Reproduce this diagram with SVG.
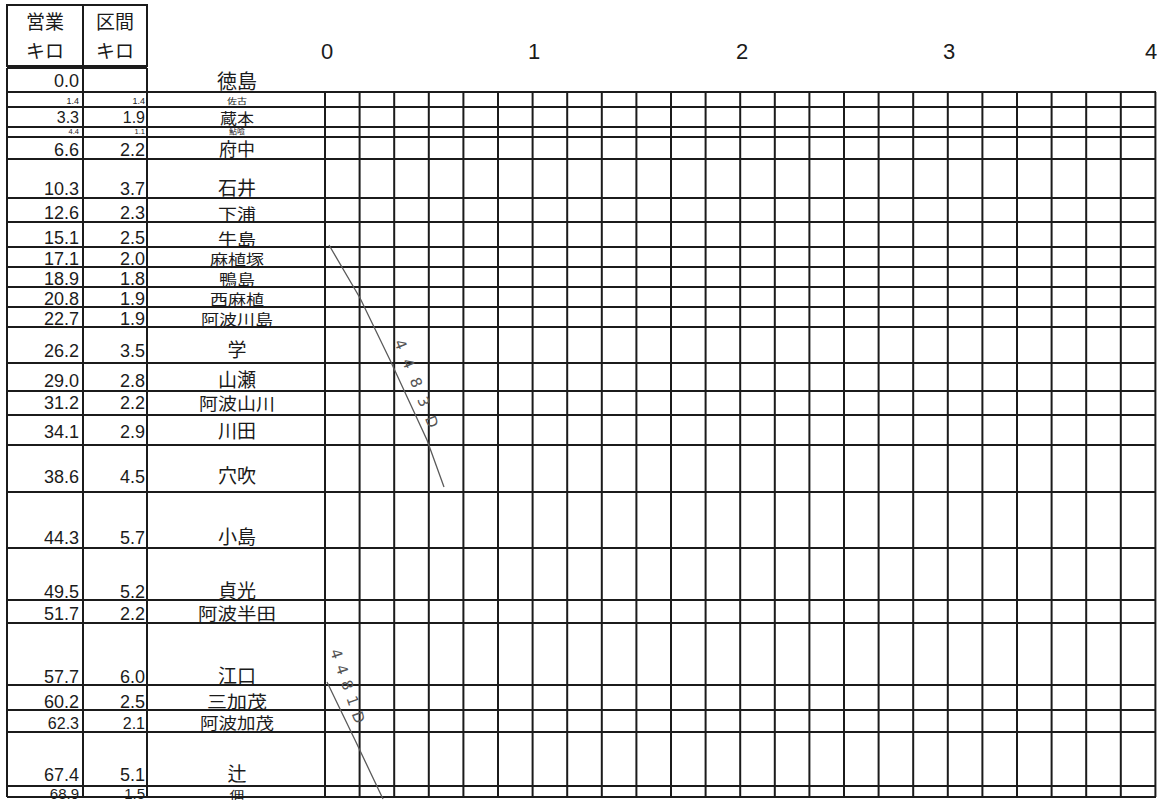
<svg xmlns="http://www.w3.org/2000/svg" width="1157" height="801" viewBox="0 0 1157 801">
<style>
.ln{stroke:#1b1b1b;stroke-width:2;fill:none}
.km{font-family:"Liberation Sans",Arial,sans-serif;font-size:18px;fill:#1b1b1b;text-anchor:end}
.nm{font-family:"Noto Sans CJK JP","Noto Sans CJK SC",sans-serif;font-size:19px;fill:#1b1b1b;text-anchor:middle}
.hd{font-family:"Noto Sans CJK JP","Noto Sans CJK SC",sans-serif;font-size:19px;fill:#1b1b1b;text-anchor:middle}
.hr{font-family:"Liberation Sans",Arial,sans-serif;font-size:22px;fill:#1b1b1b;text-anchor:middle}
.tr{stroke:#5a5a5a;stroke-width:1.3;fill:none}
.hw{font-family:"DejaVu Sans",sans-serif;font-size:15px;fill:#555}
</style>
<rect width="1157" height="801" fill="#ffffff"/>
<g id="header">
<rect class="ln" x="7" y="5" width="140" height="61"/>
<line class="ln" x1="83" y1="5" x2="83" y2="66"/>
<text class="hd" x="45" y="29">営業</text>
<text class="hd" x="45" y="58">キロ</text>
<text class="hd" x="115" y="29">区間</text>
<text class="hd" x="115" y="58">キロ</text>
</g>
<g id="hours">
<text class="hr" x="327" y="59">0</text>
<text class="hr" x="534" y="59">1</text>
<text class="hr" x="742" y="59">2</text>
<text class="hr" x="949" y="59">3</text>
<text class="hr" x="1151" y="59">4</text>
</g>
<g id="table-frame">
<line class="ln" x1="7" y1="68" x2="147" y2="68"/>
<path class="ln" d="M7 68V797M83 68V797M147 68V797"/>
</g>
<g id="grid">
<path class="ln" d="M325 92V797M359.6 92V797M394.2 92V797M428.8 92V797M463.4 92V797M498 92V797M532.6 92V797M567.2 92V797M601.8 92V797M636.4 92V797M671 92V797M705.6 92V797M740.2 92V797M774.8 92V797M809.4 92V797M844 92V797M878.6 92V797M913.2 92V797M947.8 92V797M982.4 92V797M1017 92V797M1051.6 92V797M1086.2 92V797M1120.8 92V797M1155.4 92V797"/>
<path class="ln" d="M7 92H1156M7 107H1156M7 127H1156M7 137H1156M7 159H1156M7 198H1156M7 222H1156M7 247H1156M7 267H1156M7 287H1156M7 307H1156M7 327H1156M7 363H1156M7 391H1156M7 415H1156M7 445H1156M7 492H1156M7 548H1156M7 600H1156M7 623H1156M7 685H1156M7 710H1156M7 732H1156M7 786H1156M7 797H1156"/>
</g>
<g id="st-tokushima"><text class="km" x="79" y="87">0.0</text><text class="nm" x="237" y="89" style="font-size:20px">徳島</text></g>
<g id="st-sako"><text class="km" x="79" y="104" style="font-size:9px">1.4</text><text class="km" x="145" y="104" style="font-size:9px">1.4</text><text class="nm" transform="translate(237,104) scale(1,0.75)" style="font-size:10px">佐古</text></g>
<g id="st-kuramoto"><text class="km" x="79" y="123" style="font-size:16px">3.3</text><text class="km" x="145" y="123" style="font-size:16px">1.9</text><text class="nm" transform="translate(237,124) scale(1,0.9)" style="font-size:17px">蔵本</text></g>
<g id="st-akui"><text class="km" x="79" y="134" style="font-size:7.5px">4.4</text><text class="km" x="145" y="134" style="font-size:7.5px">1.1</text><text class="nm" transform="translate(237,134) scale(1,0.8)" style="font-size:8px">鮎喰</text></g>
<g id="st-kou"><text class="km" x="79" y="156">6.6</text><text class="km" x="145" y="156">2.2</text><text class="nm" x="237" y="156" style="font-size:18px">府中</text></g>
<g id="st-ishii"><text class="km" x="79" y="195">10.3</text><text class="km" x="145" y="195">3.7</text><text class="nm" x="237" y="195">石井</text></g>
<g id="st-shimoura"><text class="km" x="79" y="219">12.6</text><text class="km" x="145" y="219">2.3</text><text class="nm" transform="translate(237,220) scale(1,0.86)" style="font-size:19px">下浦</text></g>
<g id="st-ushinoshima"><text class="km" x="79" y="244">15.1</text><text class="km" x="145" y="244">2.5</text><text class="nm" transform="translate(237,245) scale(1,0.86)" style="font-size:19px">牛島</text></g>
<g id="st-oezuka"><text class="km" x="79" y="265">17.1</text><text class="km" x="145" y="265">2.0</text><text class="nm" transform="translate(237,265) scale(1,0.82)" style="font-size:18px">麻植塚</text></g>
<g id="st-kamojima"><text class="km" x="79" y="285">18.9</text><text class="km" x="145" y="285">1.8</text><text class="nm" transform="translate(237,285) scale(1,0.82)" style="font-size:18px">鴨島</text></g>
<g id="st-nishioe"><text class="km" x="79" y="305">20.8</text><text class="km" x="145" y="305">1.9</text><text class="nm" transform="translate(237,305) scale(1,0.82)" style="font-size:18px">西麻植</text></g>
<g id="st-awakawashima"><text class="km" x="79" y="325">22.7</text><text class="km" x="145" y="325">1.9</text><text class="nm" transform="translate(237,325) scale(1,0.82)" style="font-size:18px">阿波川島</text></g>
<g id="st-gaku"><text class="km" x="79" y="357">26.2</text><text class="km" x="145" y="357">3.5</text><text class="nm" x="237" y="357">学</text></g>
<g id="st-yamase"><text class="km" x="79" y="387">29.0</text><text class="km" x="145" y="387">2.8</text><text class="nm" x="237" y="387">山瀬</text></g>
<g id="st-awayamakawa"><text class="km" x="79" y="409">31.2</text><text class="km" x="145" y="409">2.2</text><text class="nm" transform="translate(237,410) scale(1,0.9)" style="font-size:19px">阿波山川</text></g>
<g id="st-kawata"><text class="km" x="79" y="438">34.1</text><text class="km" x="145" y="438">2.9</text><text class="nm" x="237" y="438">川田</text></g>
<g id="st-anabuki"><text class="km" x="79" y="483">38.6</text><text class="km" x="145" y="483">4.5</text><text class="nm" x="237" y="483">穴吹</text></g>
<g id="st-oshima"><text class="km" x="79" y="544">44.3</text><text class="km" x="145" y="544">5.7</text><text class="nm" x="237" y="544">小島</text></g>
<g id="st-sadamitsu"><text class="km" x="79" y="598">49.5</text><text class="km" x="145" y="598">5.2</text><text class="nm" x="237" y="598">貞光</text></g>
<g id="st-awahanda"><text class="km" x="79" y="620">51.7</text><text class="km" x="145" y="620">2.2</text><text class="nm" transform="translate(237,620) scale(1,0.88)" style="font-size:19.5px">阿波半田</text></g>
<g id="st-eguchi"><text class="km" x="79" y="683">57.7</text><text class="km" x="145" y="683">6.0</text><text class="nm" x="237" y="683">江口</text></g>
<g id="st-mikamo"><text class="km" x="79" y="708">60.2</text><text class="km" x="145" y="708">2.5</text><text class="nm" transform="translate(237,708) scale(1,0.85)" style="font-size:20px">三加茂</text></g>
<g id="st-awakamo"><text class="km" x="79" y="729" style="font-size:16px">62.3</text><text class="km" x="145" y="729" style="font-size:16px">2.1</text><text class="nm" transform="translate(237,729) scale(1,0.85)" style="font-size:18.5px">阿波加茂</text></g>
<g id="st-tsuji"><text class="km" x="79" y="781">67.4</text><text class="km" x="145" y="781">5.1</text><text class="nm" x="237" y="781">辻</text></g>
<g id="st-tsukuda"><text class="km" x="79" y="799" style="font-size:15px">68.9</text><text class="km" x="145" y="799" style="font-size:15px">1.5</text><text class="nm" transform="translate(237,799) scale(1,0.7)" style="font-size:15px">佃</text></g>
<g id="connectors">
<polyline class="tr" points="329,245 360,298 390,360 427,440 444,487"/>
<polyline class="tr" points="327,682 355,740 383,799"/>
</g>
<g id="train-labels">
<text class="hw" transform="translate(394,342) rotate(68)" letter-spacing="11">4483D</text>
<text class="hw" transform="translate(330,651) rotate(71)" letter-spacing="7">4481D</text>
</g>
</svg>
